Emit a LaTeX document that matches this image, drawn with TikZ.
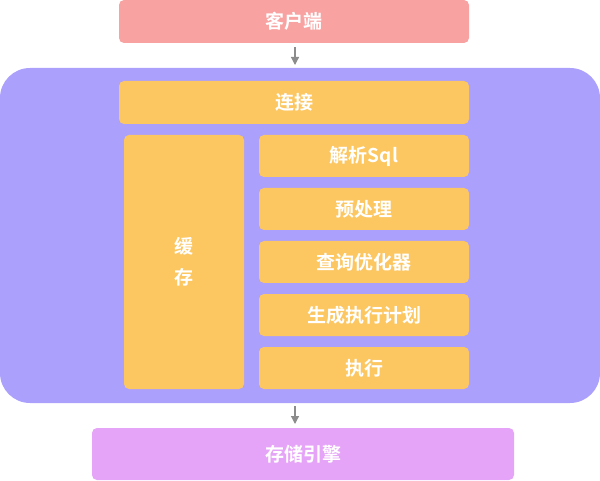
\documentclass[tikz,border=0pt]{standalone}
\usepackage{fontspec}
\setmainfont{Noto Sans CJK SC}[BoldFont={Noto Sans CJK SC Bold}]
\usetikzlibrary{arrows.meta}
\definecolor{cpink}{HTML}{F8A2A2}
\definecolor{cpurple}{HTML}{ABA0FB}
\definecolor{corange}{HTML}{FCC660}
\definecolor{cmagenta}{HTML}{E6A4F8}
\definecolor{carrow}{HTML}{8C8C8C}
\begin{document}
\begin{tikzpicture}[x=1pt,y=-1pt,
  box/.style={rounded corners=5pt, inner sep=0pt, text=white, font=\fontsize{19}{22}\selectfont\bfseries},
  arr/.style={draw=carrow, line width=1.2pt, -{Triangle[length=8pt,width=8pt]}}]
\useasboundingbox (0,0) rectangle (600,481);
\fill[cpurple, rounded corners=30pt] (0,68) rectangle (600,403);
\path[box, fill=cpink] (119,0) rectangle (469,43) node[midway] (client) {客户端};
\path[box, fill=corange] (119,81) rectangle (469,124) node[midway] (conn) {连接};
\path[box, fill=corange] (124,135) rectangle (244,389) node[midway, align=center] (cache) {缓\\[9pt]存};
\path[box, fill=corange] (259,135) rectangle (469,177) node[midway] (parse) {解析Sql};
\path[box, fill=corange] (259,188) rectangle (469,230) node[midway] (pre) {预处理};
\path[box, fill=corange] (259,241) rectangle (469,283) node[midway] (opt) {查询优化器};
\path[box, fill=corange] (259,294) rectangle (469,336) node[midway] (plan) {生成执行计划};
\path[box, fill=corange] (259,347) rectangle (469,389) node[midway] (exec) {执行};
\path[box, fill=cmagenta] (92,428) rectangle (514,480) node[midway] (store) {存储引擎};
\coordinate (a1s) at (295,47); \coordinate (a1e) at (295,65);
\coordinate (a2s) at (295,406); \coordinate (a2e) at (295,424);
\draw[arr] (a1s) -- (a1e);
\draw[arr] (a2s) -- (a2e);
\end{tikzpicture}
\end{document}
